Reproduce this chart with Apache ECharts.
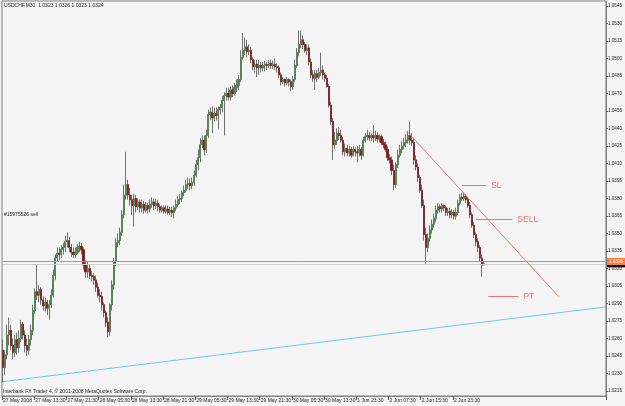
<!DOCTYPE html>
<html><head><meta charset="utf-8">
<script src="https://cdn.jsdelivr.net/npm/echarts@6/dist/echarts.min.js"></script>
<style>html,body{margin:0;padding:0;background:#f4f4f4}#c{width:625px;height:406px}</style>
</head><body><div id="c"></div>
<script>
const xTickLabels = ['27 May 2008','27 May 13:30','27 May 21:30','28 May 05:30','28 May 13:30','28 May 21:30','29 May 05:30','29 May 13:30','29 May 21:30','30 May 05:30','30 May 13:30','1 Jun 23:30','2 Jun 07:30','2 Jun 15:30','2 Jun 23:30'];
const yTicks = [1.0545,1.0530,1.0515,1.0500,1.0485,1.0470,1.0455,1.0440,1.0425,1.0410,1.0395,1.0380,1.0365,1.0350,1.0335,1.0320,1.0305,1.0290,1.0275,1.0260,1.0245,1.0230,1.0215];

const opens = [
1.0250,1.0235,1.0246,1.0263,1.0267,1.0254,1.0248,1.0259,1.0252,1.0260,
1.0272,1.0263,1.0254,1.0250,1.0259,1.0267,1.0284,1.0300,1.0297,1.0302,
1.0293,1.0288,1.0291,1.0286,1.0289,1.0297,1.0314,1.0329,1.0333,1.0332,
1.0336,1.0338,1.0343,1.0344,1.0338,1.0334,1.0332,1.0334,1.0338,1.0339,
1.0336,1.0323,1.0317,1.0320,1.0314,1.0313,1.0310,1.0304,1.0297,1.0296,
1.0289,1.0282,1.0274,1.0266,1.0289,1.0306,1.0326,1.0342,1.0344,1.0351,
1.0366,1.0383,1.0392,1.0383,1.0379,1.0374,1.0380,1.0373,1.0377,1.0372,
1.0375,1.0370,1.0374,1.0371,1.0375,1.0377,1.0374,1.0376,1.0373,1.0370,
1.0372,1.0369,1.0371,1.0368,1.0370,1.0368,1.0372,1.0375,1.0379,1.0380,
1.0385,1.0387,1.0392,1.0393,1.0391,1.0394,1.0400,1.0409,1.0415,1.0426,
1.0430,1.0422,1.0434,1.0452,1.0454,1.0449,1.0453,1.0451,1.0456,1.0458,
1.0464,1.0468,1.0470,1.0467,1.0473,1.0470,1.0475,1.0477,1.0482,1.0501,
1.0507,1.0510,1.0506,1.0507,1.0499,1.0493,1.0495,1.0492,1.0494,1.0492,
1.0494,1.0495,1.0494,1.0496,1.0494,1.0495,1.0493,1.0492,1.0486,1.0480,
1.0482,1.0479,1.0482,1.0480,1.0476,1.0482,1.0494,1.0505,1.0512,1.0516,
1.0512,1.0507,1.0509,1.0497,1.0486,1.0483,1.0487,1.0484,1.0488,1.0490,
1.0486,1.0483,1.0476,1.0460,1.0446,1.0426,1.0430,1.0436,1.0434,1.0430,
1.0420,1.0423,1.0419,1.0422,1.0417,1.0422,1.0420,1.0419,1.0422,1.0417,
1.0430,1.0433,1.0434,1.0432,1.0434,1.0432,1.0434,1.0431,1.0433,1.0428,
1.0426,1.0422,1.0415,1.0413,1.0404,1.0392,1.0409,1.0417,1.0422,1.0425,
1.0428,1.0430,1.0434,1.0430,1.0428,1.0413,1.0407,1.0398,1.0387,1.0374,
1.0349,1.0338,1.0346,1.0353,1.0358,1.0363,1.0370,1.0373,1.0371,1.0374,
1.0372,1.0368,1.0369,1.0366,1.0368,1.0365,1.0368,1.0376,1.0381,1.0380,
1.0382,1.0379,1.0374,1.0366,1.0357,1.0349,1.0343,1.0338,1.0329,1.0323];

const closes = [
1.0235,1.0246,1.0263,1.0267,1.0254,1.0248,1.0259,1.0252,1.0260,1.0272,
1.0263,1.0254,1.0250,1.0259,1.0267,1.0284,1.0300,1.0297,1.0302,1.0293,
1.0288,1.0291,1.0286,1.0289,1.0297,1.0314,1.0329,1.0333,1.0332,1.0336,
1.0338,1.0343,1.0344,1.0338,1.0334,1.0332,1.0334,1.0338,1.0339,1.0336,
1.0323,1.0317,1.0320,1.0314,1.0313,1.0310,1.0304,1.0297,1.0296,1.0289,
1.0282,1.0274,1.0266,1.0289,1.0306,1.0326,1.0342,1.0344,1.0351,1.0366,
1.0383,1.0392,1.0383,1.0379,1.0374,1.0380,1.0373,1.0377,1.0372,1.0375,
1.0370,1.0374,1.0371,1.0375,1.0377,1.0374,1.0376,1.0373,1.0370,1.0372,
1.0369,1.0371,1.0368,1.0370,1.0368,1.0372,1.0375,1.0379,1.0380,1.0385,
1.0387,1.0392,1.0393,1.0391,1.0394,1.0400,1.0409,1.0415,1.0426,1.0430,
1.0422,1.0434,1.0452,1.0454,1.0449,1.0453,1.0451,1.0456,1.0458,1.0464,
1.0468,1.0470,1.0467,1.0473,1.0470,1.0475,1.0477,1.0482,1.0501,1.0507,
1.0510,1.0506,1.0507,1.0499,1.0493,1.0495,1.0492,1.0494,1.0492,1.0494,
1.0495,1.0494,1.0496,1.0494,1.0495,1.0493,1.0492,1.0486,1.0480,1.0482,
1.0479,1.0482,1.0480,1.0476,1.0482,1.0494,1.0505,1.0512,1.0516,1.0512,
1.0507,1.0509,1.0497,1.0486,1.0483,1.0487,1.0484,1.0488,1.0490,1.0486,
1.0483,1.0476,1.0460,1.0446,1.0426,1.0430,1.0436,1.0434,1.0430,1.0420,
1.0423,1.0419,1.0422,1.0417,1.0422,1.0420,1.0419,1.0422,1.0417,1.0430,
1.0433,1.0434,1.0432,1.0434,1.0432,1.0434,1.0431,1.0433,1.0428,1.0426,
1.0422,1.0415,1.0413,1.0404,1.0392,1.0409,1.0417,1.0422,1.0425,1.0428,
1.0430,1.0434,1.0430,1.0428,1.0413,1.0407,1.0398,1.0387,1.0374,1.0349,
1.0338,1.0346,1.0353,1.0358,1.0363,1.0370,1.0373,1.0371,1.0374,1.0372,
1.0368,1.0369,1.0366,1.0368,1.0365,1.0368,1.0376,1.0381,1.0380,1.0382,
1.0379,1.0374,1.0366,1.0357,1.0349,1.0343,1.0338,1.0329,1.0323,1.0324];

const lows = [
1.0222,1.0229,1.0242,1.0254,1.0250,1.0242,1.0244,1.0246,1.0248,1.0257,
1.0259,1.0248,1.0245,1.0246,1.0254,1.0263,1.0281,1.0293,1.0291,1.0289,
1.0284,1.0283,1.0280,1.0276,1.0286,1.0295,1.0310,1.0326,1.0327,1.0329,
1.0332,1.0334,1.0338,1.0334,1.0330,1.0329,1.0329,1.0332,1.0334,1.0332,
1.0319,1.0312,1.0312,1.0311,1.0309,1.0306,1.0300,1.0295,1.0291,1.0284,
1.0278,1.0270,1.0261,1.0262,1.0284,1.0302,1.0322,1.0338,1.0340,1.0348,
1.0363,1.0379,1.0379,1.0374,1.0366,1.0356,1.0368,1.0370,1.0368,1.0368,
1.0367,1.0368,1.0367,1.0368,1.0372,1.0370,1.0371,1.0369,1.0368,1.0368,
1.0367,1.0367,1.0366,1.0366,1.0364,1.0363,1.0369,1.0373,1.0375,1.0377,
1.0382,1.0385,1.0388,1.0387,1.0388,1.0391,1.0398,1.0404,1.0411,1.0423,
1.0417,1.0419,1.0432,1.0447,1.0436,1.0446,1.0447,1.0440,1.0452,1.0454,
1.0434,1.0464,1.0464,1.0464,1.0467,1.0468,1.0471,1.0473,1.0480,1.0499,
1.0503,1.0501,1.0503,1.0496,1.0490,1.0488,1.0484,1.0486,1.0488,1.0489,
1.0489,1.0490,1.0492,1.0491,1.0491,1.0490,1.0488,1.0483,1.0477,1.0478,
1.0476,1.0477,1.0476,1.0472,1.0473,1.0480,1.0492,1.0502,1.0509,1.0508,
1.0505,1.0503,1.0494,1.0483,1.0480,1.0473,1.0480,1.0482,1.0485,1.0482,
1.0480,1.0475,1.0458,1.0443,1.0413,1.0422,1.0426,1.0430,1.0428,1.0417,
1.0416,1.0416,1.0416,1.0415,1.0416,1.0416,1.0411,1.0416,1.0413,1.0416,
1.0428,1.0430,1.0429,1.0429,1.0428,1.0429,1.0428,1.0428,1.0426,1.0423,
1.0420,1.0412,1.0410,1.0400,1.0387,1.0389,1.0406,1.0415,1.0419,1.0422,
1.0424,1.0427,1.0426,1.0425,1.0409,1.0404,1.0394,1.0385,1.0372,1.0344,
1.0324,1.0334,1.0343,1.0350,1.0355,1.0360,1.0367,1.0368,1.0368,1.0369,
1.0365,1.0365,1.0363,1.0363,1.0362,1.0362,1.0366,1.0374,1.0378,1.0378,
1.0376,1.0372,1.0363,1.0355,1.0346,1.0339,1.0334,1.0326,1.0313,1.0323];

const highs = [
1.0259,1.0250,1.0272,1.0278,1.0272,1.0260,1.0263,1.0265,1.0267,1.0276,
1.0274,1.0267,1.0260,1.0263,1.0272,1.0289,1.0303,1.0323,1.0306,1.0304,
1.0296,1.0295,1.0293,1.0293,1.0302,1.0319,1.0332,1.0338,1.0338,1.0340,
1.0342,1.0348,1.0351,1.0347,1.0341,1.0338,1.0338,1.0341,1.0343,1.0342,
1.0338,1.0327,1.0326,1.0323,1.0318,1.0316,1.0314,1.0308,1.0302,1.0300,
1.0291,1.0284,1.0278,1.0290,1.0310,1.0329,1.0346,1.0350,1.0355,1.0370,
1.0392,1.0420,1.0396,1.0389,1.0383,1.0384,1.0383,1.0380,1.0379,1.0379,
1.0378,1.0377,1.0376,1.0379,1.0381,1.0380,1.0380,1.0379,1.0375,1.0374,
1.0374,1.0374,1.0374,1.0373,1.0373,1.0374,1.0379,1.0382,1.0384,1.0387,
1.0391,1.0396,1.0398,1.0397,1.0398,1.0404,1.0413,1.0422,1.0432,1.0434,
1.0434,1.0439,1.0456,1.0458,1.0459,1.0458,1.0458,1.0459,1.0461,1.0468,
1.0471,1.0475,1.0475,1.0476,1.0477,1.0479,1.0482,1.0486,1.0507,1.0522,
1.0518,1.0516,1.0512,1.0510,1.0501,1.0499,1.0499,1.0499,1.0497,1.0497,
1.0498,1.0497,1.0499,1.0499,1.0498,1.0500,1.0496,1.0494,1.0488,1.0484,
1.0483,1.0484,1.0483,1.0482,1.0485,1.0499,1.0509,1.0524,1.0524,1.0520,
1.0514,1.0512,1.0512,1.0500,1.0490,1.0490,1.0490,1.0492,1.0505,1.0494,
1.0488,1.0486,1.0478,1.0463,1.0449,1.0437,1.0440,1.0441,1.0439,1.0433,
1.0427,1.0426,1.0425,1.0424,1.0425,1.0424,1.0425,1.0426,1.0424,1.0433,
1.0436,1.0439,1.0437,1.0436,1.0443,1.0438,1.0437,1.0435,1.0435,1.0431,
1.0429,1.0425,1.0418,1.0416,1.0409,1.0411,1.0422,1.0426,1.0429,1.0432,
1.0435,1.0438,1.0446,1.0436,1.0432,1.0417,1.0410,1.0400,1.0392,1.0379,
1.0355,1.0350,1.0357,1.0362,1.0367,1.0374,1.0376,1.0375,1.0376,1.0375,
1.0374,1.0372,1.0372,1.0371,1.0370,1.0372,1.0379,1.0384,1.0385,1.0385,
1.0384,1.0381,1.0377,1.0368,1.0360,1.0351,1.0346,1.0340,1.0332,1.0326];

const askPrice = 1.0326;
const bidPrice = 1.0324;
const trendLine = [[201, 1.0437], [276, 1.0296]];
const supportLine = [[0, 1.0223], [299, 1.0287]];
const slLine = [[228, 1.0391], [240, 1.0391]];
const sellLine = [[235, 1.0362], [253, 1.0362]];
const ptLine = [[241, 1.0296], [256, 1.0296]];

const SLOTS = 300;
const categories = Array.from({length: SLOTS}, (_, i) => String(i));
const wickData = opens.map((o, i) => [o, closes[i], lows[i], highs[i]]);
const bodyData = opens.map((o, i) => [o, closes[i], Math.min(o, closes[i]), Math.max(o, closes[i])]);

const FONT = 'Liberation Sans, Arial, sans-serif';
const RED = '#f07272';
const ORANGE = '#ff7a3c';
const tickInterval = (index) => index % 16 === 0 && index / 16 < xTickLabels.length;

function segment(pts, color, text) {
  const a = {coord: pts[0], lineStyle: {color: color, width: 1, type: 'solid'}};
  if (text) {
    a.label = {show: true, position: 'end', formatter: text, color: color, fontSize: 8.5, fontFamily: FONT, distance: 5};
  } else {
    a.label = {show: false};
  }
  return [a, {coord: pts[1]}];
}
function priceLine(price, lineColor, boxColor) {
  return [
    {coord: [0, price], lineStyle: {color: lineColor, width: 1, type: 'solid'},
      label: {show: true, position: 'end', formatter: price.toFixed(4), backgroundColor: boxColor, color: '#fff',
        fontSize: 4.6, padding: [1, 2], distance: 2, fontFamily: FONT}},
    {coord: [SLOTS - 1, price]}
  ];
}

const chart = echarts.init(document.getElementById('c'), null, {renderer: 'canvas'});
chart.setOption({
  animation: false,
  backgroundColor: '#f4f4f4',
  textStyle: {fontFamily: FONT},
  title: {text: 'USDCHF,M30  1.0323 1.0326 1.0323 1.0324', left: 4, top: 3, padding: 0,
    textStyle: {fontSize: 5, fontWeight: 'normal', color: '#222', fontFamily: FONT}},
  grid: {left: 1, right: 19, top: 1, bottom: 10, show: true, borderColor: '#808080', borderWidth: 1, backgroundColor: 'transparent'},
  xAxis: {
    type: 'category', data: categories, boundaryGap: true,
    axisLine: {lineStyle: {color: '#808080'}},
    axisTick: {show: true, interval: tickInterval, length: 4, lineStyle: {color: '#555'}},
    axisLabel: {interval: tickInterval, formatter: (v, i) => xTickLabels[i / 16] || '', align: 'left',
      fontSize: 5, color: '#222', margin: 2, fontFamily: FONT},
    splitLine: {show: false}
  },
  yAxis: {
    type: 'value', position: 'right', min: 1.02107, max: 1.05493,
    axisLine: {show: true, lineStyle: {color: '#808080'}},
    axisTick: {show: true, length: 2, customValues: yTicks, lineStyle: {color: '#555'}},
    axisLabel: {customValues: yTicks, formatter: v => v.toFixed(4), fontSize: 4.6, color: '#222', margin: 2, fontFamily: FONT},
    splitLine: {show: false}
  },
  graphic: [
    {type: 'text', left: 4, top: 212, style: {text: '#15975526 sell', fontSize: 5, fill: '#222', fontFamily: FONT}},
    {type: 'text', left: 3, top: 389, style: {text: 'Interbank FX Trader 4, \u00a9 2001-2008 MetaQuotes Software Corp.', fontSize: 5, fill: '#222', fontFamily: FONT}}
  ],
  series: [
    {
      type: 'candlestick', name: 'wick', data: wickData, barWidth: 1.6, z: 2,
      itemStyle: {color: '#707070', color0: '#707070', borderColor: '#707070', borderColor0: '#707070', borderWidth: 1},
      markLine: {
        silent: true, symbol: ['none', 'none'], animation: false, z: 5, precision: 6,
        data: [
          priceLine(bidPrice, '#d0d0d0', '#000'),
          priceLine(askPrice, ORANGE, ORANGE),
          segment(trendLine, RED),
          segment(supportLine, '#6cc8f2'),
          segment(slLine, RED, 'SL'),
          segment(sellLine, RED, 'SELL'),
          segment(ptLine, RED, 'PT')
        ]
      }
    },
    {
      type: 'candlestick', name: 'body', data: bodyData, barWidth: 1.6, z: 3,
      itemStyle: {color: '#4e8c4e', color0: '#8b1414', borderColor: '#4e8c4e', borderColor0: '#8b1414', borderWidth: 0.5}
    }
  ]
});
</script>
</body></html>
